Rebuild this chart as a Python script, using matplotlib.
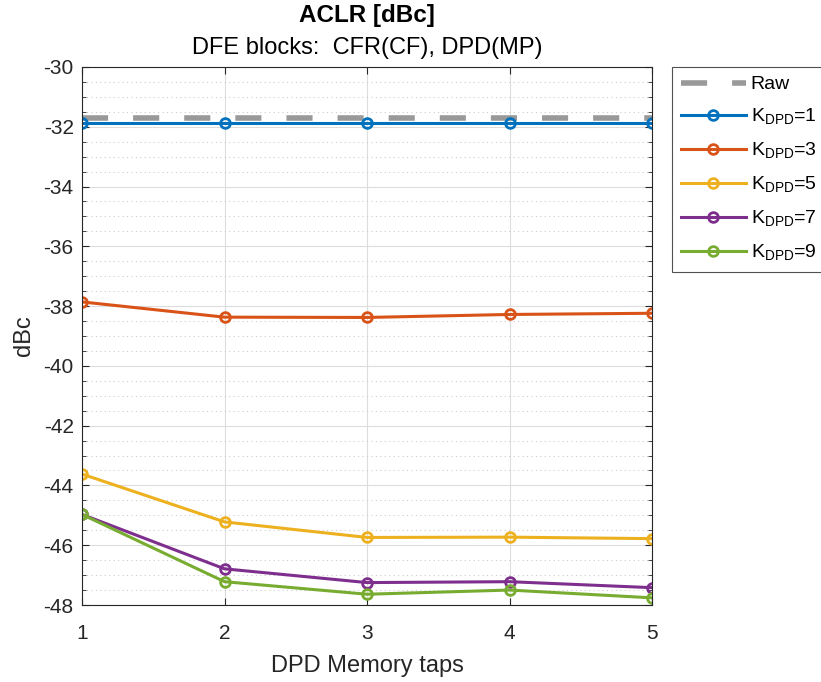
import matplotlib
matplotlib.use("Agg")
import matplotlib.pyplot as plt
from matplotlib.ticker import MultipleLocator, FuncFormatter

plt.rcParams['font.family'] = ['Liberation Sans', 'DejaVu Sans']
plt.rcParams['axes.unicode_minus'] = False

# data
taps = [1, 2, 3, 4, 5]
raw = [-31.72, -31.72, -31.72, -31.72, -31.72]
k1 = [-31.88, -31.88, -31.88, -31.88, -31.88]
k3 = [-37.86, -38.37, -38.38, -38.28, -38.24]
k5 = [-43.62, -45.22, -45.74, -45.73, -45.78]
k7 = [-44.97, -46.79, -47.25, -47.22, -47.42]
k9 = [-44.97, -47.22, -47.64, -47.50, -47.76]

series = [(k1, '#0072BD', '1'), (k3, '#D95319', '3'), (k5, '#EDB120', '5'),
          (k7, '#7E2F8E', '7'), (k9, '#77AC30', '9')]

fig = plt.figure(figsize=(8.21, 6.82), dpi=100)
ax = fig.add_axes([0.0999, 0.1129, 0.6943, 0.7889])

ax.plot(taps, raw, '--', color='#999999', lw=4, dashes=(4.7, 4.5), label='Raw')
for vals, c, k in series:
    ax.plot(taps, vals, '-o', color=c, lw=2.2, ms=7, mfc='none', mew=2,
            label=r'K$_{\mathregular{DPD}}$=' + k)

ax.set_xlim(1, 5)
ax.set_ylim(-48, -30)
ax.set_xticks(taps)
ax.yaxis.set_major_locator(MultipleLocator(2))
ax.yaxis.set_minor_locator(MultipleLocator(0.5))
ax.yaxis.set_major_formatter(FuncFormatter(lambda v, p: '%d' % v))
ax.grid(True, which='major', color='#dddddd', lw=0.8)
ax.grid(True, which='minor', axis='y', color='#cccccc', lw=0.8, ls=(0, (1, 3)))
ax.set_axisbelow(True)
ax.tick_params(which='both', direction='in', top=True, right=True, labelsize=15,
               colors='#262626')
ax.tick_params(which='minor', length=3)
ax.tick_params(which='major', length=5)
ax.tick_params(axis='x', pad=14)
ax.tick_params(axis='y', pad=6)
for s in ax.spines.values():
    s.set_color('#262626')
    s.set_linewidth(0.8)

ax.set_xlabel('DPD Memory taps', fontsize=17, color='#262626', labelpad=8)
ax.set_ylabel('dBc', fontsize=17, color='#262626', labelpad=6)
fig.text(0.447, 0.978, 'ACLR [dBc]', ha='center', va='center', fontsize=17.5,
         fontweight='bold', color='#000000')
fig.text(0.447, 0.93, 'DFE blocks:  CFR(CF), DPD(MP)', ha='center', va='center',
         fontsize=17, color='#000000')

leg = ax.legend(loc='upper left', bbox_to_anchor=(1.035, 1.0), fontsize=14,
                frameon=True, fancybox=False, edgecolor='#262626',
                handlelength=3.35, borderaxespad=0, labelspacing=0.7,
                handletextpad=0.25, borderpad=0.45)
leg.get_frame().set_linewidth(0.8)

fig.savefig('out.png', dpi=100)
